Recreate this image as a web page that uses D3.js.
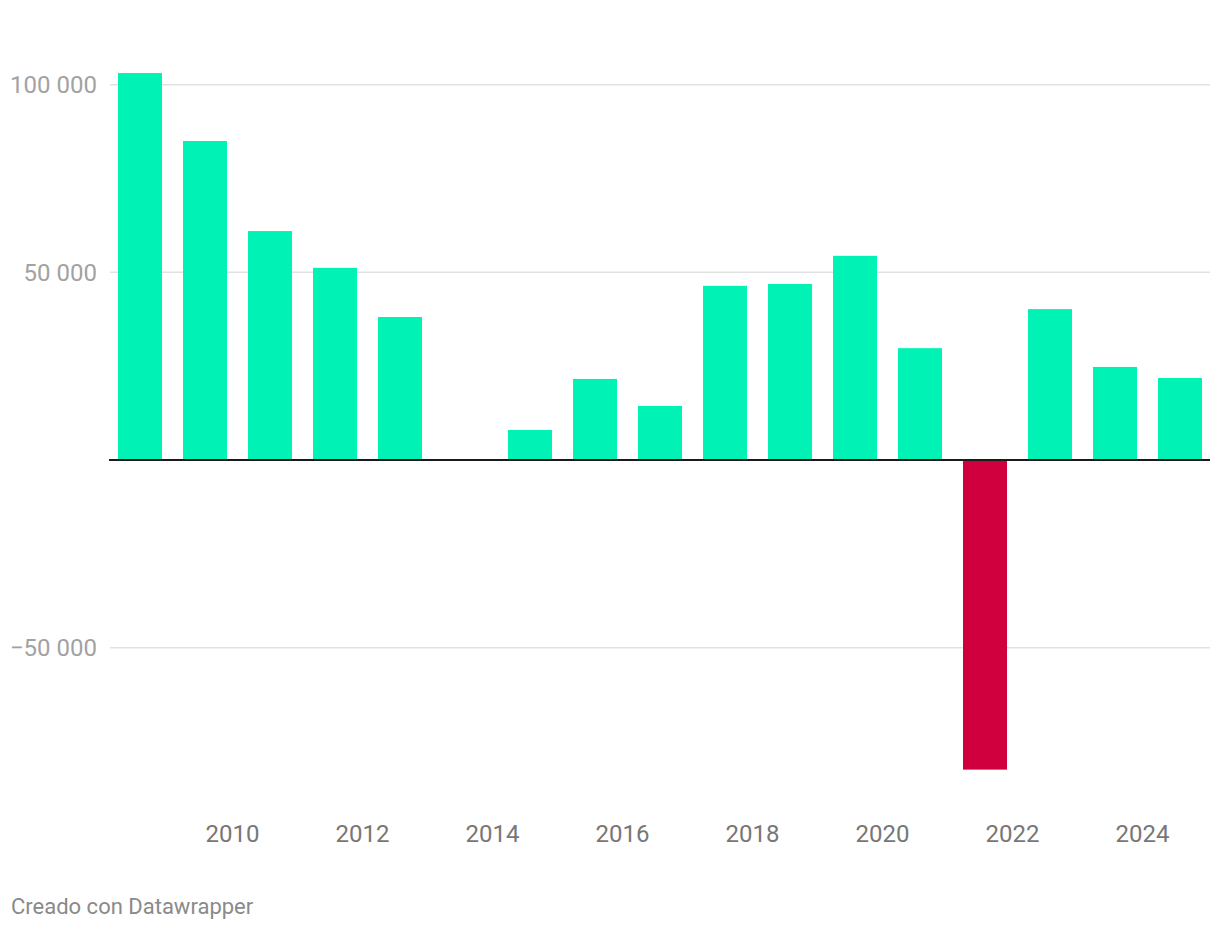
<!DOCTYPE html>
<html>
<head>
<meta charset="utf-8">
<script src="https://cdn.jsdelivr.net/npm/d3@7"></script>
<style>
  html, body { margin: 0; padding: 0; background: #fff; }
  svg { display: block; font-family: Roboto, "Noto Sans", sans-serif; }
</style>
</head>
<body>
<svg id="chart" width="1220" height="930"></svg>
<script>
// ---- data ----
const years  = [2008, 2009, 2010, 2011, 2012, 2013, 2014, 2015, 2016, 2017, 2018, 2019, 2020, 2021, 2022, 2023, 2024];
const values = [103100, 85000, 61000, 51200, 38100, 0, 8000, 21600, 14400, 46400, 46900, 54400, 29800, -82500, 40200, 24800, 21850];
const xTickYears = [2010, 2012, 2014, 2016, 2018, 2020, 2022, 2024];
const yTickValues = [-50000, 50000, 100000];
const footer = "Creado con Datawrapper";

// ---- layout ----
const svg = d3.select("#chart");
const plotLeft = 110, plotRight = 1210;
const BAR_START = 0.246, BAR_END = 0.923;   // portion of the year covered by each column

const x = d3.scaleLinear().domain([2008.123, 2025.046]).range([plotLeft, plotRight]);
const y = d3.scaleLinear().domain([-50000, 100000]).range([647.65, 84.7]);

const loc = d3.formatLocale({decimal: ",", thousands: " ", grouping: [3], currency: ["", "€"], minus: "\u2212"});
const fmt = loc.format(",d");

// grid lines
svg.append("g")
  .selectAll("line")
  .data(yTickValues)
  .join("line")
  .attr("x1", plotLeft).attr("x2", plotRight)
  .attr("y1", d => y(d)).attr("y2", d => y(d))
  .attr("stroke", "#e2e2e2")
  .attr("stroke-width", 1.5);

// y labels
svg.append("g")
  .selectAll("text")
  .data(yTickValues)
  .join("text")
  .attr("x", 97)
  .attr("y", d => y(d))
  .attr("dy", "0.355em")
  .attr("text-anchor", "end")
  .attr("font-size", 24)
  .attr("fill", "#a2a2a2")
  .text(d => fmt(d));

// bars
svg.append("g")
  .selectAll("rect")
  .data(years.map((yr, i) => ({yr, v: values[i]})))
  .join("rect")
  .attr("x", d => x(d.yr + BAR_START))
  .attr("width", d => x(d.yr + BAR_END) - x(d.yr + BAR_START))
  .attr("y", d => d.v >= 0 ? y(d.v) : y(0))
  .attr("height", d => Math.abs(y(d.v) - y(0)))
  .attr("fill", d => d.v >= 0 ? "#00f2b4" : "#d0003f");

// zero baseline
svg.append("line")
  .attr("x1", plotLeft - 1).attr("x2", plotRight)
  .attr("y1", y(0)).attr("y2", y(0))
  .attr("stroke", "#1a1a1a")
  .attr("stroke-width", 2);

// x axis labels
const xAxis = d3.axisBottom(x).tickValues(xTickYears).tickFormat(d3.format("d")).tickSize(0).tickPadding(0);
const gx = svg.append("g").attr("transform", "translate(0,825)").call(xAxis);
gx.select(".domain").remove();
gx.selectAll("text")
  .attr("font-family", "Roboto, sans-serif")
  .attr("font-size", 24)
  .attr("fill", "#777777")
  .attr("dy", null)
  .attr("y", 17.2);

// footer
svg.append("text")
  .attr("x", 11)
  .attr("y", 914)
  .attr("font-size", 22)
  .attr("fill", "#8a8a8a")
  .text(footer);
</script>
</body>
</html>
